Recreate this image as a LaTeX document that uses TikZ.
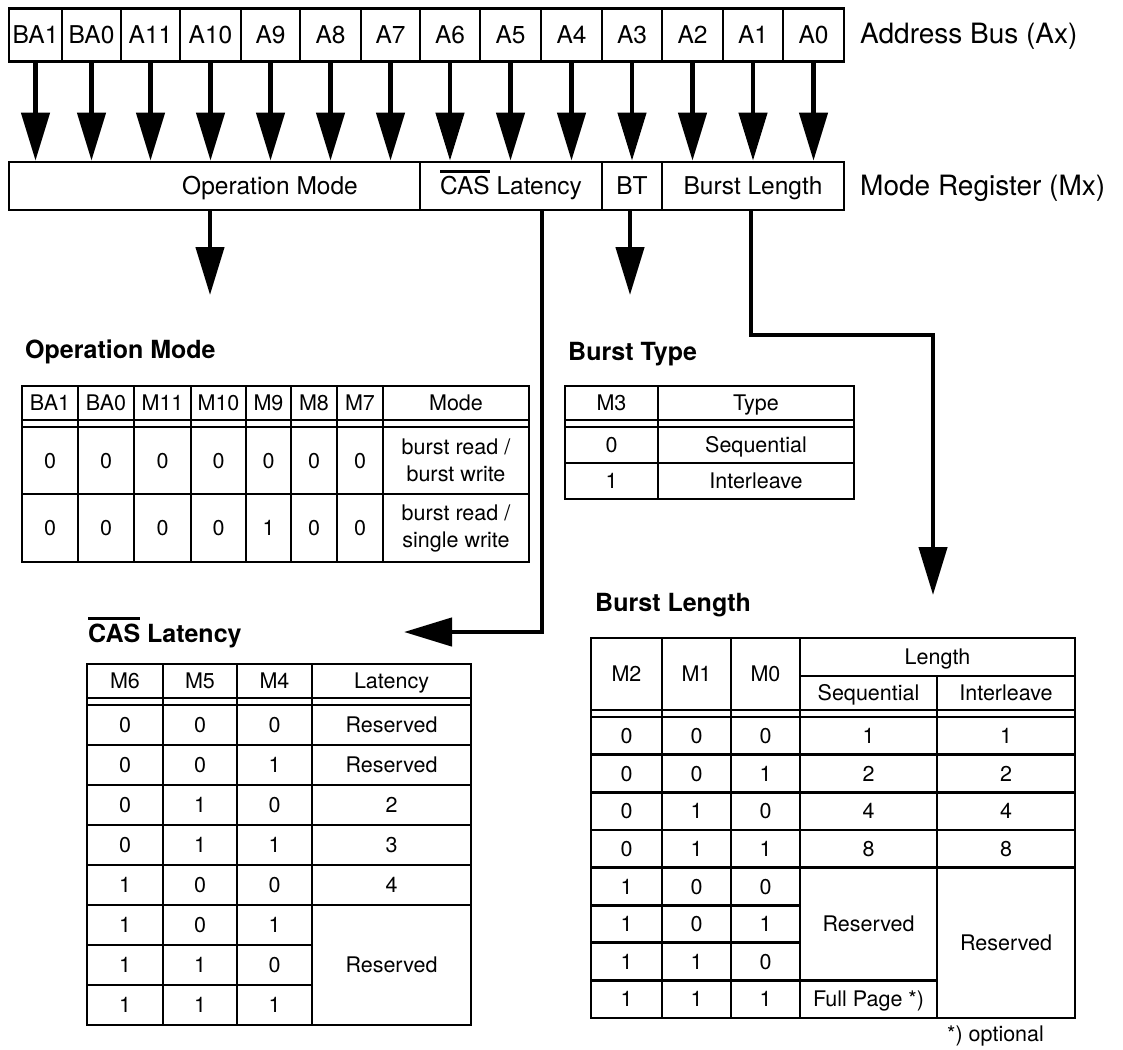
\documentclass[tikz,border=0pt]{standalone}
\usepackage{fontspec}
\setmainfont{TeX Gyre Heros}
\usetikzlibrary{arrows.meta, positioning}

% bar over a signal name
\newcommand{\ovline}[1]{\setbox0=\hbox{#1}\rlap{\rule[\dimexpr\ht0+0.15em\relax]{\wd0}{0.1em}}\box0\relax}

\begin{document}
\begin{tikzpicture}[x=1pt, y=-1pt,
    buscell/.style={draw, line width=2.7pt, minimum height=53pt, inner sep=0pt,
        font=\fontsize{24.5}{28}\selectfont, text height=17.6pt, text depth=0pt},
    regcell/.style={buscell, minimum height=48pt},
    side/.style={anchor=base west, inner sep=0pt, font=\fontsize{28}{32}\selectfont},
    title/.style={anchor=base west, inner sep=0pt, font=\fontsize{25}{30}\selectfont\bfseries},
    tab/.style={inner sep=0pt, font=\fontsize{21.5}{27}\selectfont, text height=15.5pt, text depth=0pt},
    tabtwo/.style={inner sep=0pt, align=center, font=\fontsize{21.5}{27}\selectfont},
    gridline/.style={line width=2.8pt},
    bigarrow/.style={line width=4.5pt, -{Triangle[length=48pt, width=28pt]}}
]
\useasboundingbox (0,0) rectangle (1123,1049);

% Address bus
\foreach \l/\r/\t in {9/62/BA1, 62/121/BA0, 121/180/A11, 180/241/A10, 241/300/A9,
    300/361/A8, 361/420/A7, 420/480/A6, 480/541/A5, 541/602/A4, 602/662/A3,
    662/723/A2, 723/783/A1, 783/844/A0}
    \node[buscell, minimum width={(\r-\l)*1pt}] (bus-\t) at ({(\l+\r)/2},35) {\t};
\node[side] (buslbl) at (860,44) {Address Bus (Ax)};

% Mode register
\node[regcell, minimum width=411pt] (op) at (214.5,186) {};
\node[buscell, draw=none, text height=17.6pt] (optxt) at (270,186) {Operation Mode};
\node[regcell, minimum width=182pt] (cas) at (511,186) {\ovline{CAS} Latency};
\node[regcell, minimum width=60pt] (bt) at (632,186) {BT};
\node[regcell, minimum width=182pt] (bl) at (753,186) {Burst Length};
\node[side] (reglbl) at (860,195) {Mode Register (Mx)};

% Bus to register
\foreach \t in {BA1,BA0,A11,A10,A9,A8,A7,A6,A5,A4,A3,A2,A1,A0}
    \draw[bigarrow] (bus-\t.south) -- (bus-\t.south |- op.north);

% Register fields to their tables
\coordinate (opTip) at (210,295);
\coordinate (btTip) at (630,295);
\coordinate (casBend) at (542,632);
\coordinate (casTip) at (404,632);
\coordinate (blBend) at (751,335);
\coordinate (blTurn) at (933,335);
\coordinate (blTip) at (933,595);
\draw[bigarrow] (op.south -| opTip) -- (opTip);
\draw[bigarrow] (bt.south -| btTip) -- (btTip);
\draw[bigarrow] (cas.south -| casBend) -- (casBend) -- (casTip);
\draw[bigarrow] (bl.south -| blBend) -- (blBend) -- (blTurn) -- (blTip);

% Operation Mode table
\node[title] (omtitle) at (25,358) {Operation Mode};
\draw[gridline] (22,386) rectangle (529,562);
\foreach \x in {78,134,191,246,291,337,383} \draw[gridline] (\x,386) -- (\x,562);
\foreach \y in {420,427,494} \draw[gridline] (22,\y) -- (529,\y);
\foreach \x/\h/\a/\b [count=\i] in {50/BA1/0/0, 106/BA0/0/0, 162.5/M11/0/0, 218.5/M10/0/0,
    268.5/M9/0/1, 314/M8/0/0, 360/M7/0/0} {
    \node[tab] (om-h\i) at (\x,403) {\h};
    \node[tab] (om-a\i) at (\x,460.5) {\a};
    \node[tab] (om-b\i) at (\x,528) {\b};
}
\node[tab] (om-h8) at (456,403) {Mode};
\node[tabtwo] (om-a8) at (456,460.5) {burst read /\\burst write};
\node[tabtwo] (om-b8) at (456,528) {burst read /\\single write};

% Burst Type table
\node[title] (bttitle) at (568,360) {Burst Type};
\draw[gridline] (565,386) rectangle (854,499);
\draw[gridline] (658,386) -- (658,499);
\foreach \y in {420,427,463} \draw[gridline] (565,\y) -- (854,\y);
\foreach \y/\m/\t [count=\i] in {403/M3/Type, 445/0/Sequential, 481/1/Interleave} {
    \node[tab] (bt-m\i) at (611.5,\y) {\m};
    \node[tab] (bt-t\i) at (756,\y) {\t};
}

% CAS Latency table
\node[title] (castitle) at (88,642) {\ovline{CAS} Latency};
\draw[gridline] (87,664) rectangle (471,1025);
\foreach \x in {163,237,312} \draw[gridline] (\x,664) -- (\x,1025);
\foreach \y in {698,705,745,785,825,865,905} \draw[gridline] (87,\y) -- (471,\y);
\foreach \y in {945,985} \draw[gridline] (87,\y) -- (312,\y);
\foreach \y/\a/\b/\c [count=\i] in {681/M6/M5/M4, 725/0/0/0, 765/0/0/1, 805/0/1/0, 845/0/1/1,
    885/1/0/0, 925/1/0/1, 965/1/1/0, 1005/1/1/1} {
    \node[tab] (cl-a\i) at (125,\y) {\a};
    \node[tab] (cl-b\i) at (200,\y) {\b};
    \node[tab] (cl-c\i) at (274.5,\y) {\c};
}
\foreach \y/\t [count=\i] in {681/Latency, 725/Reserved, 765/Reserved, 805/2, 845/3, 885/4, 965/Reserved}
    \node[tab] (cl-l\i) at (391.5,\y) {\t};

% Burst Length table
\node[title] (bltitle) at (595,611) {Burst Length};
\draw[gridline] (591,638) rectangle (1075,1018);
\foreach \x in {662,731,800} \draw[gridline] (\x,638) -- (\x,1018);
\draw[gridline] (937,676) -- (937,1018);
\draw[gridline] (800,676) -- (1075,676);
\foreach \y in {710,717,754.6,792.3,829.9,867.5} \draw[gridline] (591,\y) -- (1075,\y);
\foreach \y in {905.1,942.8} \draw[gridline] (591,\y) -- (800,\y);
\draw[gridline] (591,980.4) -- (937,980.4);
\foreach \y/\a/\b/\c [count=\i] in {674/M2/M1/M0, 735.8/0/0/0, 773.4/0/0/1, 811.1/0/1/0, 848.7/0/1/1,
    886.3/1/0/0, 924/1/0/1, 961.6/1/1/0, 999.2/1/1/1} {
    \node[tab] (bl-a\i) at (626.5,\y) {\a};
    \node[tab] (bl-b\i) at (696.5,\y) {\b};
    \node[tab] (bl-c\i) at (765.5,\y) {\c};
}
\node[tab] (bl-len) at (937.5,657) {Length};
\foreach \y/\s/\n [count=\i] in {693/Sequential/Interleave, 735.8/1/1, 773.4/2/2, 811.1/4/4, 848.7/8/8} {
    \node[tab] (bl-s\i) at (868.5,\y) {\s};
    \node[tab] (bl-n\i) at (1006,\y) {\n};
}
\node[tab] (bl-s6) at (868.5,924) {Reserved};
\node[tab] (bl-s7) at (868.5,999.2) {Full Page *)};
\node[tab] (bl-n6) at (1006,942.8) {Reserved};
\node[tabtwo, anchor=base west] (optnote) at (947,1041) {*) optional};

\end{tikzpicture}
\end{document}
